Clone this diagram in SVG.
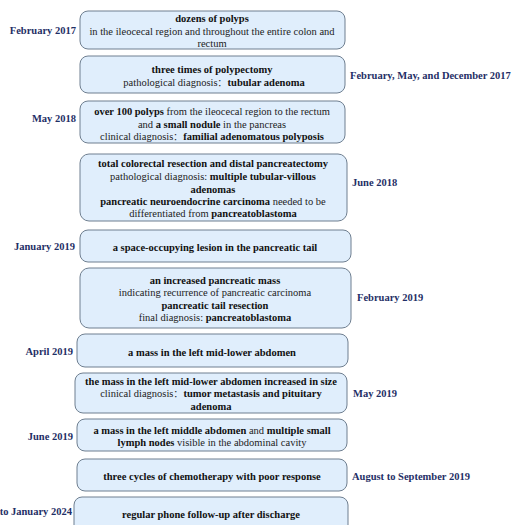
<svg xmlns="http://www.w3.org/2000/svg" width="513" height="525" viewBox="0 0 513 525">
<style>
.box{fill:#e0eefc;stroke:#6f7f90;stroke-width:1}
.t{font-family:"Liberation Serif",serif;font-size:10.5px;fill:#222;text-anchor:middle}
.b{font-weight:bold;fill:#111}
.c{font-family:"Noto Sans CJK SC",sans-serif;font-size:9px}
.l{font-family:"Liberation Serif",serif;font-size:10.5px;font-weight:bold;fill:#1f2f66}
.e{text-anchor:end}
</style>
<rect width="513" height="525" fill="#ffffff"/>
<g id="n1">
<rect class="box" x="80" y="11" width="265" height="38" rx="8"/>
<text class="t" x="212" y="22"><tspan class="b">dozens of polyps</tspan></text>
<text class="t" x="212" y="35">in the ileocecal region and throughout the entire colon and</text>
<text class="t" x="212" y="47">rectum</text>
<text class="l e" x="76" y="34">February 2017</text>
</g>
<g id="n2">
<rect class="box" x="80" y="56" width="265" height="37" rx="8"/>
<text class="t" x="212" y="73"><tspan class="b">three times of polypectomy</tspan></text>
<text class="t" x="214" y="86">pathological diagnosis<tspan class="c">：</tspan><tspan class="b" dx="1">tubular adenoma</tspan></text>
<text class="l" x="350" y="79">February, May, and December 2017</text>
</g>
<g id="n3">
<rect class="box" x="80" y="101" width="265" height="42" rx="8"/>
<text class="t" x="212" y="115"><tspan class="b">over 100 polyps</tspan> from the ileocecal region to the rectum</text>
<text class="t" x="212" y="128">and <tspan class="b">a small nodule</tspan> in the pancreas</text>
<text class="t" x="212" y="140">clinical diagnosis<tspan class="c">：</tspan><tspan class="b" dx="1">familial adenomatous polyposis</tspan></text>
<text class="l e" x="76" y="122">May 2018</text>
</g>
<g id="n4">
<rect class="box" x="80" y="154" width="267" height="67" rx="9"/>
<text class="t" x="213" y="167"><tspan class="b">total colorectal resection and distal pancreatectomy</tspan></text>
<text class="t" x="213" y="180">pathological diagnosis: <tspan class="b">multiple tubular-villous</tspan></text>
<text class="t" x="213" y="193"><tspan class="b">adenomas</tspan></text>
<text class="t" x="213" y="205"><tspan class="b">pancreatic neuroendocrine carcinoma</tspan> needed to be</text>
<text class="t" x="213" y="217">differentiated from <tspan class="b">pancreatoblastoma</tspan></text>
<text class="l" x="352" y="186">June 2018</text>
</g>
<g id="n5">
<rect class="box" x="80" y="230" width="271" height="32" rx="8"/>
<text class="t" x="215" y="251"><tspan class="b">a space-occupying lesion in the pancreatic tail</tspan></text>
<text class="l e" x="75" y="250">January 2019</text>
</g>
<g id="n6">
<rect class="box" x="80" y="268" width="271" height="60" rx="9"/>
<text class="t" x="215" y="284"><tspan class="b">an increased pancreatic mass</tspan></text>
<text class="t" x="215" y="296">indicating recurrence of pancreatic carcinoma</text>
<text class="t" x="215" y="309"><tspan class="b">pancreatic tail resection</tspan></text>
<text class="t" x="215" y="321">final diagnosis: <tspan class="b">pancreatoblastoma</tspan></text>
<text class="l" x="357" y="301">February 2019</text>
</g>
<g id="n7">
<rect class="box" x="77" y="334" width="271" height="33" rx="8"/>
<text class="t" x="212" y="356"><tspan class="b">a mass in the left mid-lower abdomen</tspan></text>
<text class="l e" x="73" y="355">April 2019</text>
</g>
<g id="n8">
<rect class="box" x="75" y="373" width="272" height="40" rx="8"/>
<text class="t" x="211" y="385"><tspan class="b">the mass in the left mid-lower abdomen increased in size</tspan></text>
<text class="t" x="211" y="397">clinical diagnosis<tspan class="c">：</tspan><tspan class="b" dx="1">tumor metastasis and pituitary</tspan></text>
<text class="t" x="211" y="410"><tspan class="b">adenoma</tspan></text>
<text class="l" x="353" y="397">May 2019</text>
</g>
<g id="n9">
<rect class="box" x="77" y="419" width="270" height="32" rx="8"/>
<text class="t" x="212" y="434"><tspan class="b">a mass in the left middle abdomen</tspan> and <tspan class="b">multiple small</tspan></text>
<text class="t" x="212" y="446"><tspan class="b">lymph nodes</tspan> visible in the abdominal cavity</text>
<text class="l e" x="73" y="440">June 2019</text>
</g>
<g id="n10">
<rect class="box" x="77" y="459" width="270" height="32" rx="8"/>
<text class="t" x="212" y="480"><tspan class="b">three cycles of chemotherapy with poor response</tspan></text>
<text class="l" x="352" y="480">August to September 2019</text>
</g>
<g id="n11">
<rect class="box" x="74" y="497" width="274" height="40" rx="8"/>
<text class="t" x="211" y="518"><tspan class="b">regular phone follow-up after discharge</tspan></text>
<text class="l e" x="72" y="515">to January 2024</text>
</g>
<g id="connectors"></g>
</svg>
